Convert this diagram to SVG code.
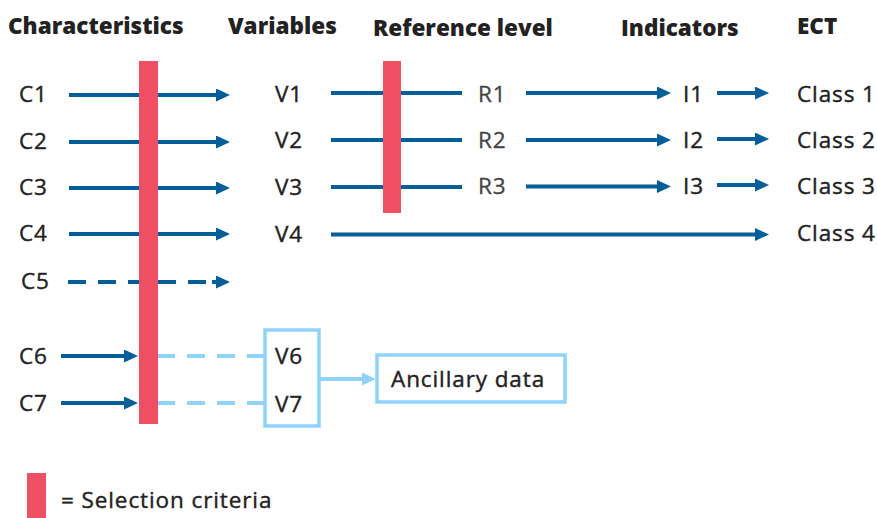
<svg xmlns="http://www.w3.org/2000/svg" width="877" height="518" viewBox="0 0 877 518">
<style>
.h{font-family:"Open Sans","Noto Sans",sans-serif;font-weight:800;font-size:22.5px;letter-spacing:0px;fill:#222}
.t{font-family:"Open Sans","Noto Sans",sans-serif;font-size:22.5px;letter-spacing:0.9px;fill:#222;stroke:#222;stroke-width:0.4px}
.r{font-family:"Open Sans","Noto Sans",sans-serif;font-size:22.5px;letter-spacing:0.9px;fill:#444;stroke:#444;stroke-width:0.3px}
.c{stroke:#035e9a;stroke-width:4;fill:none}
.d{stroke-dasharray:18 12}
.lb{stroke:#8fd2fa;stroke-width:4;fill:none}
.bar{fill:#ef4f63}
.box{fill:#fff;stroke:#8fd2fa;stroke-width:3.5}
</style>
<defs>
<marker id="a" markerUnits="userSpaceOnUse" markerWidth="14" markerHeight="14" refX="7" refY="6.5" orient="auto"><path d="M0,0 L14,6.5 L0,13 z" fill="#035e9a"/></marker>
<marker id="b" markerUnits="userSpaceOnUse" markerWidth="14" markerHeight="14" refX="7" refY="6.5" orient="auto"><path d="M0,0 L14,6.5 L0,13 z" fill="#8fd2fa"/></marker>
</defs>
<g id="headers">
<text class="h" x="8" y="34">Characteristics</text>
<text class="h" x="228" y="34">Variables</text>
<text class="h" x="373" y="36">Reference level</text>
<text class="h" x="621" y="36">Indicators</text>
<text class="h" x="797" y="34">ECT</text>
</g>
<g id="connectors">
<line class="c" x1="69" y1="95" x2="223" y2="95" marker-end="url(#a)"/>
<line class="c" x1="69" y1="142" x2="223" y2="142" marker-end="url(#a)"/>
<line class="c" x1="69" y1="188" x2="223" y2="188" marker-end="url(#a)"/>
<line class="c" x1="69" y1="234" x2="223" y2="234" marker-end="url(#a)"/>
<line class="c d" x1="68" y1="282" x2="212" y2="282"/>
<line class="c" x1="212" y1="282" x2="223" y2="282" marker-end="url(#a)"/>
<line class="c" x1="61" y1="356" x2="131" y2="356" marker-end="url(#a)"/>
<line class="c" x1="61" y1="403" x2="131" y2="403" marker-end="url(#a)"/>
<line class="lb d" x1="157" y1="356" x2="264" y2="356"/>
<line class="lb d" x1="157" y1="403" x2="264" y2="403"/>
<line class="c" x1="331" y1="93" x2="462" y2="93"/>
<line class="c" x1="331" y1="140" x2="462" y2="140"/>
<line class="c" x1="331" y1="187" x2="462" y2="187"/>
<line class="c" x1="331" y1="234.5" x2="762" y2="234.5" marker-end="url(#a)"/>
<line class="c" x1="526" y1="93" x2="664" y2="93" marker-end="url(#a)"/>
<line class="c" x1="526" y1="140" x2="664" y2="140" marker-end="url(#a)"/>
<line class="c" x1="526" y1="186.5" x2="664" y2="186.5" marker-end="url(#a)"/>
<line class="c" x1="717" y1="93" x2="762" y2="93" marker-end="url(#a)"/>
<line class="c" x1="717" y1="139" x2="762" y2="139" marker-end="url(#a)"/>
<line class="c" x1="717" y1="185" x2="762" y2="185" marker-end="url(#a)"/>
<line class="lb" x1="320" y1="379" x2="369" y2="379" marker-end="url(#b)"/>
</g>
<g id="selection-bar-1"><rect class="bar" x="139" y="61" width="19" height="363"/></g>
<g id="selection-bar-2"><rect class="bar" x="383" y="61" width="18" height="152"/></g>
<g id="characteristics">
<text class="t" x="19" y="102">C1</text>
<text class="t" x="19" y="149">C2</text>
<text class="t" x="19" y="195">C3</text>
<text class="t" x="19" y="241">C4</text>
<text class="t" x="21" y="289">C5</text>
<text class="t" x="19" y="364">C6</text>
<text class="t" x="19" y="411">C7</text>
</g>
<g id="variables">
<text class="t" x="275" y="102">V1</text>
<text class="t" x="275" y="148">V2</text>
<text class="t" x="275" y="195">V3</text>
<text class="t" x="275" y="242">V4</text>
</g>
<g id="v6v7">
<rect class="box" x="265" y="330" width="54" height="96"/>
<text class="t" x="275" y="364">V6</text>
<text class="t" x="275" y="412">V7</text>
</g>
<g id="ancillary">
<rect class="box" x="377" y="355" width="188" height="47"/>
<text class="t" x="391" y="387">Ancillary data</text>
</g>
<g id="reference">
<text class="r" x="478" y="102">R1</text>
<text class="r" x="478" y="148">R2</text>
<text class="r" x="478" y="194">R3</text>
</g>
<g id="indicators">
<text class="t" x="683" y="102">I1</text>
<text class="t" x="683" y="148">I2</text>
<text class="t" x="683" y="194">I3</text>
</g>
<g id="classes">
<text class="t" x="797" y="102">Class 1</text>
<text class="t" x="797" y="148">Class 2</text>
<text class="t" x="797" y="194">Class 3</text>
<text class="t" x="797" y="241">Class 4</text>
</g>
<g id="legend">
<rect class="bar" x="27" y="473" width="19" height="45"/>
<text class="t" x="61" y="508">= Selection criteria</text>
</g>
</svg>
